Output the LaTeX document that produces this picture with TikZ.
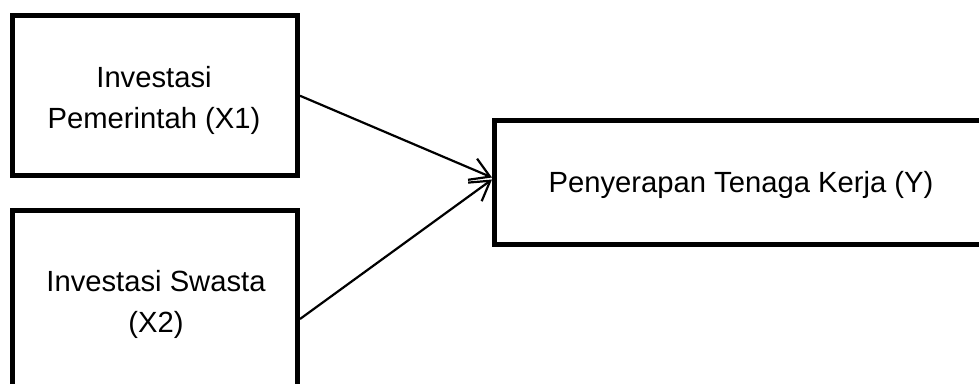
\documentclass[tikz,border=0pt]{standalone}
\usepackage{fontspec}
\setmainfont{Liberation Sans}
\usetikzlibrary{arrows.meta}

\begin{document}
\begin{tikzpicture}[x=1pt,y=1pt,
  varbox/.style={draw=black, line width=5pt, rectangle, inner sep=0pt},
  lbl/.style={font=\fontsize{29.2}{41}\selectfont, align=center, inner sep=0pt, text=black},
  link/.style={line width=2.2pt, -{Straight Barb[length=19pt,width=23pt]}}]
  \useasboundingbox (0,0) rectangle (979,383);
  \clip (0,0) rectangle (979,383);

  % variable boxes (box 2 and box Y run past the edge of the page)
  \node[varbox, minimum width=285pt, minimum height=160.5pt] (x1) at (155,287.25) {};
  \node[varbox, minimum width=285pt, minimum height=216pt] (x2) at (155,64) {};
  \node[varbox, minimum width=495pt, minimum height=124pt] (y) at (742,200.5) {};

  % labels
  \node[lbl] (tx1) at (154,282.3) {Investasi\\Pemerintah (X1)};
  \node[lbl] (tx2) at (156,78.3) {Investasi Swasta\\(X2)};
  \node[lbl, anchor=base] (ty) at (741,190) {Penyerapan Tenaga Kerja (Y)};

  % influence arrows
  \draw[link] (x1.east) -- ([yshift=5pt]y.west);
  \draw[link] (x2.east) -- ([yshift=3pt]y.west);
\end{tikzpicture}
\end{document}
